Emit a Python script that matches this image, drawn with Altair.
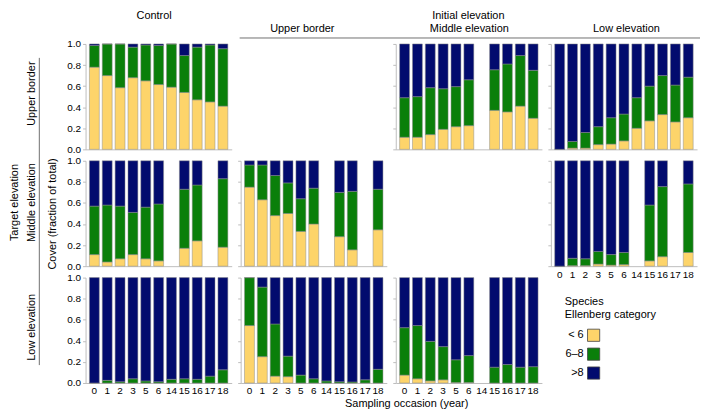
import altair as alt
import pandas as pd

YEARS = ["0", "1", "2", "3", "5", "6", "14", "15", "16", "17", "18"]
CATEGORIES = ["< 6", "6–8", ">8"]
COLORS = ["#FDD46A", "#0A7F0A", "#020B6E"]
N = None

# ---- Target: Upper border ----
CTRL_UP_LT6 = [0.78, 0.70, 0.585, 0.68, 0.65, 0.615, 0.59, 0.54, 0.47, 0.45, 0.41]
CTRL_UP_MID = [0.205, 0.30, 0.415, 0.29, 0.34, 0.37, 0.41, 0.35, 0.50, 0.54, 0.545]
CTRL_UP_GT8 = [0.015, 0.0, 0.0, 0.03, 0.01, 0.015, 0.0, 0.11, 0.03, 0.01, 0.045]

MID_UP_LT6 = [0.115, 0.115, 0.14, 0.19, 0.215, 0.225, N, 0.37, 0.355, 0.41, 0.295]
MID_UP_MID = [0.375, 0.385, 0.445, 0.385, 0.38, 0.435, N, 0.385, 0.455, 0.48, 0.455]
MID_UP_GT8 = [0.51, 0.50, 0.415, 0.425, 0.405, 0.34, N, 0.245, 0.19, 0.11, 0.25]

LOW_UP_LT6 = [0.0, 0.012, 0.012, 0.045, 0.05, 0.08, 0.20, 0.27, 0.33, 0.26, 0.30]
LOW_UP_MID = [0.0, 0.063, 0.148, 0.17, 0.25, 0.255, 0.29, 0.33, 0.37, 0.35, 0.385]
LOW_UP_GT8 = [1.0, 0.925, 0.84, 0.785, 0.70, 0.665, 0.51, 0.40, 0.30, 0.39, 0.315]

# ---- Target: Middle elevation ----
CTRL_MID_LT6 = [0.11, 0.04, 0.07, 0.11, 0.07, 0.05, N, 0.17, 0.24, N, 0.18]
CTRL_MID_MID = [0.46, 0.54, 0.50, 0.40, 0.49, 0.54, N, 0.56, 0.53, N, 0.65]
CTRL_MID_GT8 = [0.43, 0.42, 0.43, 0.49, 0.44, 0.41, N, 0.27, 0.23, N, 0.17]

UPB_MID_LT6 = [0.75, 0.63, 0.48, 0.50, 0.33, 0.40, N, 0.28, 0.155, N, 0.345]
UPB_MID_MID = [0.21, 0.33, 0.38, 0.29, 0.31, 0.34, N, 0.42, 0.555, N, 0.385]
UPB_MID_GT8 = [0.04, 0.04, 0.14, 0.21, 0.36, 0.26, N, 0.30, 0.29, N, 0.27]

LOW_MID_LT6 = [0.0, 0.005, 0.005, 0.02, 0.01, 0.015, N, 0.05, 0.09, N, 0.13]
LOW_MID_MID = [0.0, 0.07, 0.065, 0.12, 0.10, 0.115, N, 0.53, 0.665, N, 0.65]
LOW_MID_GT8 = [1.0, 0.925, 0.93, 0.86, 0.89, 0.87, N, 0.42, 0.245, N, 0.22]

# ---- Target: Low elevation ----
CTRL_LOW_LT6 = [0.0, 0.0, 0.0, 0.0, 0.0, 0.0, 0.0, 0.0, 0.0, 0.0, 0.0]
CTRL_LOW_MID = [0.0, 0.025, 0.012, 0.04, 0.02, 0.012, 0.035, 0.04, 0.035, 0.065, 0.125]
CTRL_LOW_GT8 = [1.0, 0.975, 0.988, 0.96, 0.98, 0.988, 0.965, 0.96, 0.965, 0.935, 0.875]

UPB_LOW_LT6 = [0.545, 0.25, 0.065, 0.06, 0.0, 0.0, 0.0, 0.0, 0.0, 0.0, 0.0]
UPB_LOW_MID = [0.455, 0.66, 0.495, 0.195, 0.075, 0.04, 0.02, 0.012, 0.01, 0.03, 0.13]
UPB_LOW_GT8 = [0.0, 0.09, 0.44, 0.745, 0.925, 0.96, 0.98, 0.988, 0.99, 0.97, 0.87]

MID_LOW_LT6 = [0.075, 0.04, 0.02, 0.03, 0.005, 0.005, N, 0.0, 0.0, 0.0, 0.0]
MID_LOW_MID = [0.45, 0.505, 0.375, 0.315, 0.215, 0.255, N, 0.15, 0.175, 0.15, 0.155]
MID_LOW_GT8 = [0.475, 0.455, 0.605, 0.655, 0.78, 0.74, N, 0.85, 0.825, 0.85, 0.845]

Y_TICKS = [0.0, 0.2, 0.4, 0.6, 0.8, 1.0]

W, H = 147, 106
GREY = "#BDBDBD"
FONT = "Liberation Sans"

LEGEND = alt.Legend(
    orient="none", legendX=482, legendY=254, direction="vertical",
    titleFontSize=11, titleFontWeight="normal", titleColor="black", titleFont=FONT,
    labelFontSize=11, labelColor="black", labelFont=FONT,
    symbolType="square", symbolSize=150, symbolStrokeColor="#444444",
    symbolStrokeWidth=0.8, symbolOpacity=1,
    labelAlign="right", labelOffset={"expr": "-17"}, symbolOffset=22, rowPadding=3,
    titlePadding=8,
)


def make_df(lt6, mid, gt8):
    rows = []
    for i, yr in enumerate(YEARS):
        for k, vals in enumerate((lt6, mid, gt8)):
            if vals[i] is None:
                continue
            rows.append({"year": yr, "cat": CATEGORIES[k], "k": k, "cover": vals[i]})
    return pd.DataFrame(rows)


def bar_panel(df, show_y, show_x, ytitle=None):
    xaxis = alt.Axis(labels=show_x, ticks=False, domainColor=GREY, labelAngle=0,
                     labelFontSize=10, labelPadding=3, labelColor="black",
                     labelFont=FONT, title=None)
    yaxis = alt.Axis(values=Y_TICKS, format=".1f", labels=show_y, grid=False,
                     tickSize=3, tickColor=GREY, domainColor=GREY, labelPadding=2,
                     labelFontSize=10, labelColor="black", labelFont=FONT,
                     title=ytitle, titleFontSize=11, titleFontWeight="normal",
                     titleColor="black", titleFont=FONT, titlePadding=9)
    return alt.Chart(df).mark_bar(stroke="#8c8c8c", strokeWidth=0.5).encode(
        x=alt.X("year:N", scale=alt.Scale(domain=YEARS, paddingInner=0.23, paddingOuter=0.3), axis=xaxis),
        y=alt.Y("cover:Q", stack="zero", scale=alt.Scale(domain=[0, 1], nice=False), axis=yaxis),
        color=alt.Color("cat:N", scale=alt.Scale(domain=CATEGORIES, range=COLORS),
                        legend=LEGEND, title=["Species", "Ellenberg category"]),
        order=alt.Order("k:Q"),
    )


def text_layer(txt, x, y, angle=0, size=11, align="center", baseline="alphabetic"):
    kw = dict(fontSize=size, align=align, baseline=baseline, font=FONT, color="black")
    if angle:
        kw["angle"] = angle
    return alt.Chart(pd.DataFrame({"t": [txt]})).mark_text(**kw).encode(
        text="t:N", x=alt.value(x), y=alt.value(y))


def rule_layer(x, y, x2=None, y2=None, color="#707070", width=1):
    enc = dict(x=alt.value(x), y=alt.value(y))
    if x2 is not None:
        enc["x2"] = alt.value(x2)
    if y2 is not None:
        enc["y2"] = alt.value(y2)
    return alt.Chart(pd.DataFrame({"a": [0]})).mark_rule(color=color, strokeWidth=width).encode(**enc)


def panel(*layers):
    return alt.layer(*layers).properties(width=W, height=H)


ROW_LX = -53.5
ROW_LINE_X = -46.5
TOP_Y = -25
SUB_Y = -12

# Row 1
c11 = panel(
    bar_panel(make_df(CTRL_UP_LT6, CTRL_UP_MID, CTRL_UP_GT8), True, False),
    text_layer("Control", 69, TOP_Y),
    text_layer("Upper border", ROW_LX, 50, angle=270, baseline="middle"),
    rule_layer(ROW_LINE_X, 14, y2=323),
)
c12 = panel(
    text_layer("Initial elevation", 229, TOP_Y),
    text_layer("Upper border", 62, SUB_Y),
    text_layer("Middle elevation", 230, SUB_Y),
    text_layer("Low elevation", 388, SUB_Y),
    rule_layer(-1, -6, x2=462),
)
c13 = panel(bar_panel(make_df(MID_UP_LT6, MID_UP_MID, MID_UP_GT8), False, False))
c14 = panel(bar_panel(make_df(LOW_UP_LT6, LOW_UP_MID, LOW_UP_GT8), False, False))

# Row 2
c21 = panel(
    bar_panel(make_df(CTRL_MID_LT6, CTRL_MID_MID, CTRL_MID_GT8), True, False,
              ytitle="Cover (fraction of total)"),
    text_layer("Middle elevation", ROW_LX, 42, angle=270, baseline="middle"),
    text_layer("Target elevation", -71, 42, angle=270, baseline="middle"),
)
c22 = panel(bar_panel(make_df(UPB_MID_LT6, UPB_MID_MID, UPB_MID_GT8), False, False))
c23 = panel(text_layer("", 0, 0))
c24 = panel(bar_panel(make_df(LOW_MID_LT6, LOW_MID_MID, LOW_MID_GT8), False, True))

# Row 3
c31 = panel(
    bar_panel(make_df(CTRL_LOW_LT6, CTRL_LOW_MID, CTRL_LOW_GT8), True, True),
    text_layer("Low elevation", ROW_LX, 50, angle=270, baseline="middle"),
)
c32 = panel(
    bar_panel(make_df(UPB_LOW_LT6, UPB_LOW_MID, UPB_LOW_GT8), False, True),
    text_layer("Sampling occasion (year)", 167, H + 24),
)
c33 = panel(bar_panel(make_df(MID_LOW_LT6, MID_LOW_MID, MID_LOW_GT8), False, True))
c34 = panel(text_layer("", 0, 0))

chart = alt.concat(
    c11, c12, c13, c14,
    c21, c22, c23, c24,
    c31, c32, c33, c34,
    columns=4, spacing={"row": 11.5, "column": 9}, bounds="flush",
).properties(padding=0).configure(font=FONT).configure_view(stroke="transparent")

chart.save("out.html", embed_options={"renderer": "svg", "actions": False})
